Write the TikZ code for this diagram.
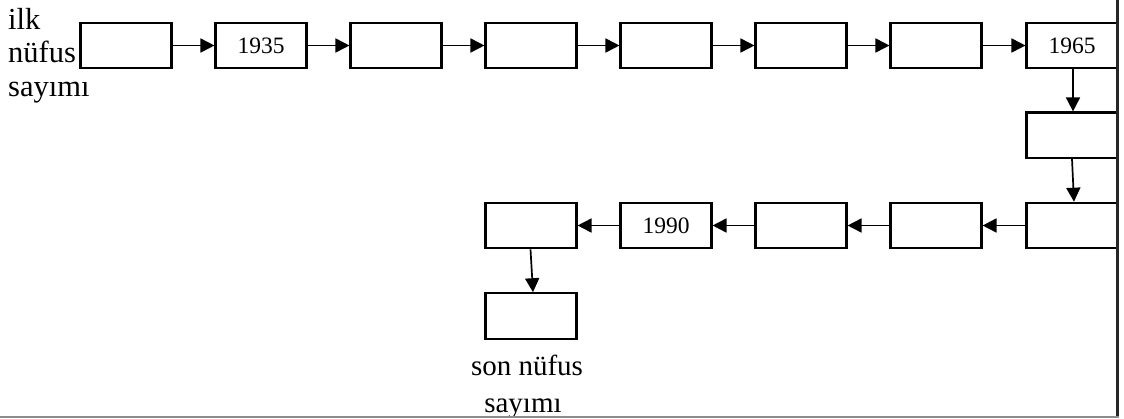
\documentclass[tikz,border=0pt]{standalone}
\usepackage{fontspec}
\setmainfont{Liberation Serif}
\usetikzlibrary{arrows.meta}
\tikzset{
  box/.style={draw, line width=2.1pt, minimum width=91pt, minimum height=45.5pt, inner sep=0pt, font=\fontsize{23.5}{28}\selectfont},
  lbl/.style={inner sep=0pt, font=\fontsize{29}{34}\selectfont},
  toplbl/.style={inner sep=0pt, font=\fontsize{30.5}{34}\selectfont},
  conn/.style={line width=1.7pt, -{Triangle[length=14pt,width=14pt]}},
}
\begin{document}
\begin{tikzpicture}[x=1pt,y=-1pt]
\useasboundingbox (0,0) rectangle (1124,418);
\begin{scope}
\clip (0,0) rectangle (1124,416);
% top row
\node[box] (t1) at (126,45.5) {};
\node[box] (t2) at (261,45.5) {1935};
\node[box] (t3) at (396,45.5) {};
\node[box] (t4) at (531,45.5) {};
\node[box] (t5) at (666,45.5) {};
\node[box] (t6) at (801,45.5) {};
\node[box] (t7) at (936,45.5) {};
\node[box] (t8) at (1072,45.5) {1965};
% column
\node[box] (c1) at (1072,135.2) {};
% bottom row
\node[box] (b1) at (1072,225.5) {};
\node[box] (b2) at (936,225.5) {};
\node[box] (b3) at (801,225.5) {};
\node[box] (b4) at (666,225.5) {1990};
\node[box] (b5) at (531,225.5) {};
\node[box] (e) at (531,316) {};
% labels
\node[toplbl, anchor=base west] (l1) at (8,29.5) {ilk};
\node[toplbl, anchor=base west] (l2) at (8,62.5) {nüfus};
\node[toplbl, anchor=base west] (l3) at (8,96.5) {sayımı};
\node[lbl, anchor=base] (s1) at (527,375) {son nüfus};
\node[lbl, anchor=base] (s2) at (523,412.7) {sayımı};
% connectors
\draw[conn] (t1) -- (t2);
\draw[conn] (t2) -- (t3);
\draw[conn] (t3) -- (t4);
\draw[conn] (t4) -- (t5);
\draw[conn] (t5) -- (t6);
\draw[conn] (t6) -- (t7);
\draw[conn] (t7) -- (t8);
\coordinate (a1) at ([xshift=1pt]t8.south);
\coordinate (a2) at ([xshift=1pt]c1.north);
\draw[conn] (a1) -- (a2);
\coordinate (a3) at ([xshift=0pt]c1.south);
\coordinate (a4) at ([xshift=2pt]b1.north);
\draw[conn] (a3) -- (a4);
\draw[conn] (b1) -- (b2);
\draw[conn] (b2) -- (b3);
\draw[conn] (b3) -- (b4);
\draw[conn] (b4) -- (b5);
\coordinate (a5) at ([xshift=-0.5pt]b5.south);
\coordinate (a6) at ([xshift=2pt]e.north);
\draw[conn] (a5) -- (a6);
\end{scope}
% frame lines
\draw[line width=2.2pt, black!85] (1117.5,0) -- (1117.5,418);
\draw[line width=2.2pt, black!45] (0,417) -- (1118.5,417);
\end{tikzpicture}
\end{document}
